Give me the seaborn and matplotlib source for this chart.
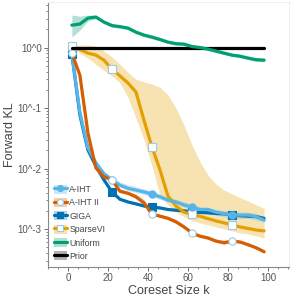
import matplotlib
matplotlib.use("Agg")
import matplotlib.pyplot as plt
import seaborn as sns
import pandas as pd
from matplotlib.lines import Line2D
from matplotlib.patches import Patch
from matplotlib.ticker import MultipleLocator, NullFormatter

# coreset sizes
k = [2, 6, 10, 14, 18, 22, 26, 30, 34, 38, 42, 46, 50, 54, 58, 62, 66, 70, 74, 78, 82, 86, 90, 94, 98]

aiht = [0.80, 0.085, 0.022, 0.0124, 0.0082, 0.0065, 0.0053, 0.0047, 0.0044, 0.0041, 0.0038, 0.0034, 0.0030,
        0.0028, 0.0025, 0.0023, 0.0021, 0.0021, 0.0019, 0.0018, 0.0017, 0.0017, 0.0017, 0.0016, 0.0014]
aiht_lo = [0.76, 0.080, 0.020, 0.0115, 0.0076, 0.0060, 0.0049, 0.0043, 0.0040, 0.0037, 0.0034, 0.0031, 0.0028,
           0.0026, 0.0023, 0.0021, 0.0019, 0.0019, 0.0017, 0.0016, 0.0015, 0.0015, 0.0015, 0.0014, 0.0013]
aiht_hi = [0.84, 0.090, 0.024, 0.0134, 0.0090, 0.0072, 0.0060, 0.0054, 0.0050, 0.0046, 0.0042, 0.0038, 0.0033,
           0.0031, 0.0028, 0.0026, 0.0023, 0.0023, 0.0021, 0.0020, 0.0019, 0.0019, 0.0019, 0.0018, 0.0016]

aiht2 = [0.81, 0.35, 0.039, 0.0102, 0.0073, 0.0065, 0.0042, 0.0039, 0.0034, 0.0027, 0.00177, 0.00163, 0.0015,
         0.00131, 0.00108, 0.00086, 0.00076, 0.00071, 0.00063, 0.00059, 0.00063, 0.00061, 0.00055, 0.00049, 0.00042]
aiht2_lo = [0.79, 0.33, 0.037, 0.0097, 0.0069, 0.0061, 0.0040, 0.0037, 0.0032, 0.0025, 0.00168, 0.00155, 0.00142,
            0.00124, 0.00102, 0.00081, 0.00072, 0.00067, 0.00060, 0.00056, 0.00060, 0.00058, 0.00052, 0.00046, 0.00040]
aiht2_hi = [0.83, 0.37, 0.041, 0.0108, 0.0077, 0.0069, 0.0046, 0.0042, 0.0038, 0.0031, 0.00186, 0.00172, 0.00160,
            0.00145, 0.00118, 0.00092, 0.00081, 0.00076, 0.00068, 0.00066, 0.00066, 0.00064, 0.00058, 0.00052, 0.00045]

giga = [0.78, 0.077, 0.0203, 0.011, 0.0065, 0.0041, 0.0031, 0.0028, 0.0026, 0.0024, 0.0023, 0.00223, 0.0021,
        0.00204, 0.0020, 0.0019, 0.00188, 0.00185, 0.0018, 0.00178, 0.0017, 0.00166, 0.00163, 0.0016, 0.0015]
giga_lo = [0.76, 0.074, 0.0196, 0.0106, 0.0063, 0.0040, 0.0030, 0.0027, 0.0025, 0.0023, 0.0022, 0.00215, 0.00203,
           0.00197, 0.00193, 0.00184, 0.00182, 0.00179, 0.00174, 0.00172, 0.00164, 0.0016, 0.00158, 0.00155, 0.00145]
giga_hi = [0.80, 0.080, 0.0210, 0.0114, 0.0067, 0.0042, 0.0032, 0.0029, 0.0027, 0.0025, 0.0024, 0.00231, 0.00217,
           0.00211, 0.00207, 0.00196, 0.00194, 0.00191, 0.00186, 0.00184, 0.00176, 0.00172, 0.00168, 0.00165, 0.00155]

sparsevi = [1.05, 0.93, 0.81, 0.75, 0.62, 0.44, 0.34, 0.26, 0.184, 0.063, 0.0227, 0.0095, 0.0035,
            0.0024, 0.0019, 0.00174, 0.00162, 0.00148, 0.00136, 0.00126, 0.00117, 0.00108, 0.00102, 0.00096, 0.00093]
sparsevi_lo = [1.02, 0.81, 0.67, 0.53, 0.42, 0.34, 0.26, 0.15, 0.068, 0.030, 0.011, 0.0036, 0.0025,
               0.0019, 0.0016, 0.00137, 0.00126, 0.00117, 0.00108, 0.0010, 0.00093, 0.00086, 0.00083, 0.00077, 0.00071]
sparsevi_hi = [1.10, 1.10, 1.10, 1.06, 0.88, 0.70, 0.53, 0.39, 0.30, 0.27, 0.25, 0.22, 0.164,
               0.10, 0.052, 0.0245, 0.0128, 0.0078, 0.0055, 0.0044, 0.0038, 0.0033, 0.0029, 0.0025, 0.0022]

uniform = [2.35, 2.45, 3.07, 3.2, 2.64, 2.31, 2.22, 2.1, 1.8, 1.61, 1.49, 1.36, 1.23,
           1.16, 1.14, 1.04, 1.0, 0.945, 0.875, 0.81, 0.75, 0.72, 0.67, 0.63, 0.62]
uniform_lo = [1.49, 1.95, 2.75, 3.0, 2.48, 2.17, 2.08, 1.97, 1.69, 1.51, 1.40, 1.28, 1.16,
              1.09, 1.07, 0.98, 0.94, 0.89, 0.82, 0.76, 0.71, 0.68, 0.63, 0.59, 0.58]
uniform_hi = [3.45, 3.3, 3.45, 3.4, 2.81, 2.46, 2.36, 2.24, 1.92, 1.71, 1.59, 1.45, 1.31,
              1.24, 1.21, 1.11, 1.07, 1.0, 0.93, 0.86, 0.80, 0.77, 0.71, 0.67, 0.66]

prior = [1.0] * 25

series = [
    # name, y, lo, hi, color, marker, marker face
    ("GIGA", giga, giga_lo, giga_hi, "#0072B2", "s", "#0072B2"),
    ("SparseVI", sparsevi, sparsevi_lo, sparsevi_hi, "#E69F00", "s", "white"),
    ("A-IHT", aiht, aiht_lo, aiht_hi, "#56B4E9", "o", "#56B4E9"),
    ("A-IHT II", aiht2, aiht2_lo, aiht2_hi, "#D55E00", "o", "white"),
    ("Prior", prior, prior, prior, "black", None, None),
    ("Uniform", uniform, uniform_lo, uniform_hi, "#009E73", None, None),
]
legend_order = ["A-IHT", "A-IHT II", "GIGA", "SparseVI", "Uniform", "Prior"]

sns.set_style("ticks")
plt.rcParams['font.family'] = ['Liberation Sans', 'DejaVu Sans']

fig = plt.figure(figsize=(2.99, 2.99), dpi=100)
ax = fig.add_axes([0.16, 0.107, 0.807, 0.886])

edge = "#9ecae1"
handles = {}
for name, y, lo, hi, col, mk, mface in series:
    df = pd.DataFrame({"k": k, "kl": y})
    ax.fill_between(k, lo, hi, color=col, alpha=0.3, lw=0)
    if mk is None:
        sns.lineplot(data=df, x="k", y="kl", color=col, lw=2.3, ax=ax)
        line = Line2D([], [], color=col, lw=2.3)
    else:
        mec = col if mface == col else edge
        sns.lineplot(data=df, x="k", y="kl", color=col, lw=2.3, ax=ax,
                     marker=mk, markevery=5, markersize=5.2, markerfacecolor=mface,
                     markeredgecolor=mec, markeredgewidth=0.8)
        line = Line2D([], [], color=col, lw=2.3, marker=mk, markersize=4.3,
                      markerfacecolor=mface, markeredgecolor=mec, markeredgewidth=0.8)
    patch = Patch(facecolor=col, alpha=0.3, lw=0)
    handles[name] = (patch, line)

ax.set_yscale("log")
ax.set_xlim(-10, 110.5)
ax.set_ylim(2.35e-4, 5.65)
ax.set_yticks([1, 0.1, 0.01, 0.001])
ax.set_yticklabels(["10^0", "10^-1", "10^-2", "10^-3"])
ax.yaxis.set_minor_formatter(NullFormatter())
ax.set_xticks([0, 20, 40, 60, 80, 100])
ax.xaxis.set_minor_locator(MultipleLocator(5))

gray = "#555555"
ax.set_xlabel("Coreset Size k", fontsize=9, color="#444444", labelpad=1)
ax.set_ylabel("Forward KL", fontsize=9, color="#444444", labelpad=1)
ax.tick_params(axis="both", which="major", labelsize=7, colors=gray, length=3, width=0.6, pad=1.5)
ax.tick_params(axis="both", which="minor", colors=gray, length=1.5, width=0.5)
for s in ["left", "bottom"]:
    ax.spines[s].set_color("#888888")
    ax.spines[s].set_linewidth(0.8)
for s in ["top", "right"]:
    ax.spines[s].set_color("#eeeeee")
    ax.spines[s].set_linewidth(0.8)

leg = ax.legend([handles[n] for n in legend_order], legend_order,
                loc="lower left", bbox_to_anchor=(0.0, 0.0), frameon=False,
                fontsize=6.3, handlelength=1.45, handleheight=1.2, labelspacing=0.45,
                handletextpad=0.3, borderaxespad=0.3)
for t in leg.get_texts():
    t.set_color("#444444")

fig.savefig("out.png", dpi=100)
